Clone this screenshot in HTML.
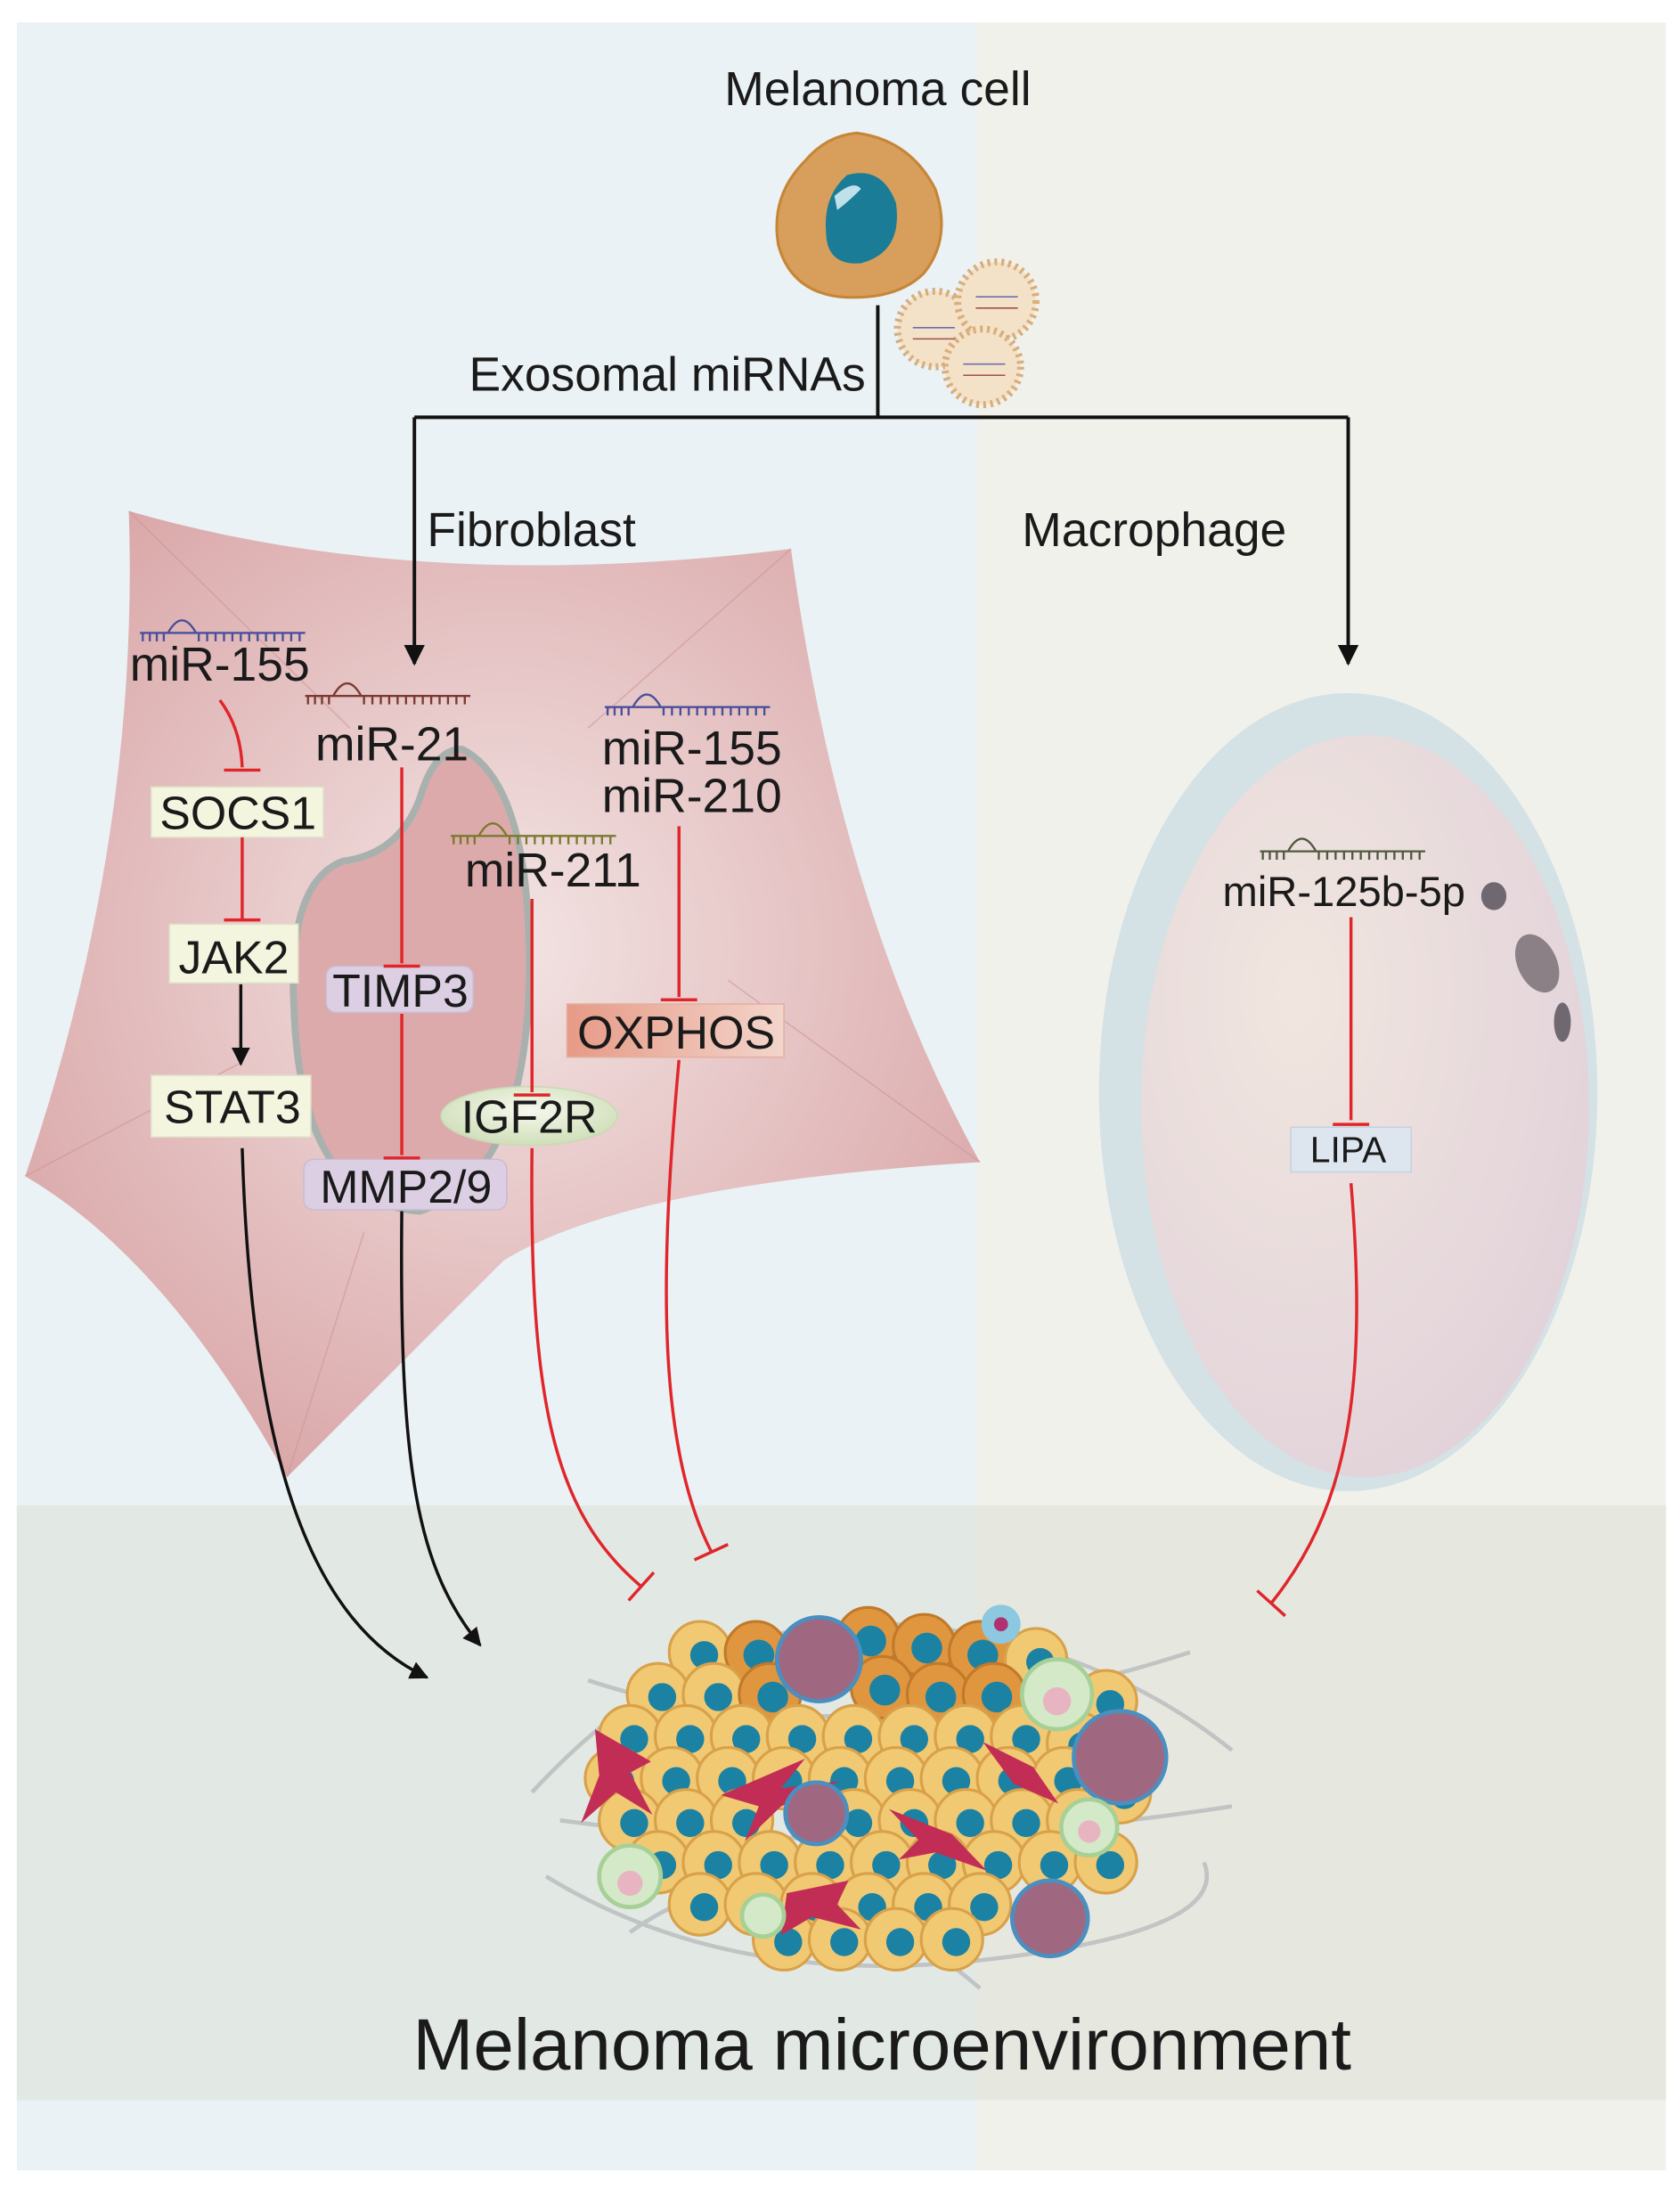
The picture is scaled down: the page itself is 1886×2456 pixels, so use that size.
<!DOCTYPE html>
<html><head><meta charset="utf-8"><style>
html,body{margin:0;padding:0;background:#fff}
svg{display:block}
text{font-family:"Liberation Sans",Arial,sans-serif;fill:#1a1a1a}
</style></head><body>
<svg width="1886" height="2456" viewBox="0 0 1200 1562.6" preserveAspectRatio="none" xmlns="http://www.w3.org/2000/svg">
<defs>
<radialGradient id="fib" cx="0.5" cy="0.45" r="0.6"><stop offset="0" stop-color="#f3e4e4"/><stop offset="1" stop-color="#daa7a8"/></radialGradient>
<radialGradient id="mac" cx="0.35" cy="0.35" r="0.7"><stop offset="0" stop-color="#f1e6df"/><stop offset="1" stop-color="#e2d3da"/></radialGradient>
<linearGradient id="ox" x1="0" y1="0" x2="1" y2="0"><stop offset="0" stop-color="#e69a86"/><stop offset="1" stop-color="#f3d5cb"/></linearGradient>
<radialGradient id="ig" cx="0.5" cy="0.4" r="0.6"><stop offset="0" stop-color="#f6f8ee"/><stop offset="1" stop-color="#cfdfb8"/></radialGradient>
<marker id="ar" viewBox="0 0 10 10" refX="9" refY="5" markerWidth="6" markerHeight="6" orient="auto-start-reverse"><path d="M0,0 L10,5 L0,10 z" fill="#111"/></marker>
<g id="cell"><circle r="22" fill="#f1c973" stroke="#d8a14a" stroke-width="2"/><circle cx="3" cy="2" r="10" fill="#1c82a3"/></g>
<g id="ocell"><circle r="22" fill="#e0963e" stroke="#c07a2a" stroke-width="2"/><circle cx="2" cy="2" r="11" fill="#1c82a3"/></g>
<g id="rna1"><path d="M0,0 h118" stroke="currentColor" stroke-width="1.5"/><path d="M2,0v6M7,0v6M12,0v6M17,0v6M42,0v6M48,0v6M54,0v6M60,0v6M66,0v6M72,0v6M78,0v6M84,0v6M90,0v6M96,0v6M102,0v6M108,0v6M114,0v6" stroke="currentColor" stroke-width="1.5"/><path d="M20,0 Q30,-18 40,0" fill="none" stroke="currentColor" stroke-width="1.5"/></g>
</defs>
<rect x="0" y="0" width="1200" height="1563" fill="#fff"/>
<rect x="12" y="16" width="686" height="1534" fill="#eaf2f5"/>
<rect x="698" y="16" width="492" height="1534" fill="#f1f1ec"/>
<rect x="12" y="1075" width="686" height="425" fill="#e2e9e5"/>
<rect x="698" y="1075" width="492" height="425" fill="#e6e8e0"/>

<!-- Melanoma cell -->
<text x="627" y="75" font-size="34" text-anchor="middle">Melanoma cell</text>
<path d="M612,95 Q650,100 668,135 Q680,170 660,195 Q640,215 600,212 Q565,208 556,175 Q550,140 575,115 Q590,97 612,95Z" fill="#d89f5c" stroke="#c68638" stroke-width="2"/>
<path d="M605,125 Q630,118 640,145 Q645,180 615,188 Q590,190 590,165 Q588,140 605,125Z" fill="#1a7c96"/>
<path d="M596,140 Q610,128 615,135 Q605,145 598,150Z" fill="#bfe1ea"/>
<g fill="#f3e1c8" stroke="#d9ae7a" stroke-width="5" stroke-dasharray="2 3">
<circle cx="668" cy="235" r="27"/><circle cx="712" cy="215" r="28"/><circle cx="702" cy="262" r="27"/>
</g>
<g stroke="#6a6fb0" stroke-width="1" fill="none"><path d="M652,234h30M697,212h30M688,260h30"/></g>
<g stroke="#a05050" stroke-width="1" fill="none"><path d="M652,242h30M697,220h30M688,268h30"/></g>
<text x="335" y="279" font-size="34">Exosomal miRNAs</text>

<!-- fibroblast -->
<path d="M92,365 Q300,425 565,392 Q600,650 700,830 Q450,845 360,900 Q280,980 205,1055 Q120,900 18,840 Q100,600 92,365Z" fill="url(#fib)"/>
<g stroke="#d19597" stroke-width="1" opacity="0.6" fill="none"><path d="M92,365 L250,520M565,392 L420,520M700,830 L520,700M205,1055 L260,880M18,840 L170,760"/></g>
<path d="M330,535 Q380,560 378,700 Q375,840 300,865 Q215,860 210,720 Q205,630 245,615 Q285,610 300,570 Q310,535 330,535Z" fill="#dcaaab" stroke="#a9b1ae" stroke-width="5"/>
<text x="305" y="390" font-size="34">Fibroblast</text>
<text x="730" y="390" font-size="34">Macrophage</text>

<!-- connectors top -->
<g stroke="#111" stroke-width="2.5" fill="none">
<path d="M627,218 V298"/><path d="M296,298 H963"/>
<path d="M296,298 V474" marker-end="url(#ar)"/><path d="M963,298 V474" marker-end="url(#ar)"/>
</g>

<!-- macrophage -->
<ellipse cx="963" cy="780" rx="178" ry="285" fill="#d4e1e5"/>
<ellipse cx="975" cy="790" rx="160" ry="265" fill="url(#mac)"/>
<ellipse cx="1067" cy="640" rx="9" ry="10" fill="#6f6870"/>
<ellipse cx="1098" cy="688" rx="14" ry="22" fill="#8a8086" transform="rotate(-25 1098 688)"/>
<ellipse cx="1116" cy="730" rx="6" ry="14" fill="#6f6870"/>

<!-- RNA icons -->
<use href="#rna1" x="100" y="452" color="#4a4f9a"/>
<use href="#rna1" x="218" y="497" color="#7a3a30"/>
<use href="#rna1" x="432" y="505" color="#4a4f9a"/>
<use href="#rna1" x="322" y="597" color="#7a7a30"/>
<use href="#rna1" x="900" y="608" color="#505a40"/>

<g font-size="34">
<text x="157" y="486" text-anchor="middle">miR-155</text>
<text x="280" y="543" text-anchor="middle">miR-21</text>
<text x="430" y="546">miR-155</text>
<text x="430" y="580">miR-210</text>
<text x="395" y="633" text-anchor="middle">miR-211</text>
</g>
<text x="960" y="647" font-size="30" text-anchor="middle">miR-125b-5p</text>

<!-- boxes -->
<rect x="108" y="562" width="123" height="36" fill="#f4f5df" stroke="#dfe0c8"/>
<rect x="121" y="660" width="92" height="42" fill="#f4f5df" stroke="#dfe0c8"/>
<rect x="108" y="768" width="114" height="44" fill="#f4f5df" stroke="#dfe0c8"/>
<rect x="233" y="690" width="105" height="33" rx="7" fill="#dccfe4" stroke="#c8bcd3"/>
<rect x="217" y="828" width="145" height="36" rx="7" fill="#dccfe4" stroke="#c8bcd3"/>
<ellipse cx="378" cy="797" rx="63" ry="21" fill="url(#ig)" stroke="#c9d8b7"/>
<rect x="405" y="717" width="155" height="38" fill="url(#ox)" stroke="#e3b0a0"/>
<rect x="922" y="805" width="86" height="32" fill="#dde6ef" stroke="#c7d2de"/>
<g font-size="33" text-anchor="middle">
<text x="170" y="592">SOCS1</text>
<text x="167" y="695">JAK2</text>
<text x="166" y="802">STAT3</text>
<text x="286" y="719">TIMP3</text>
<text x="290" y="859">MMP2/9</text>
<text x="378" y="809">IGF2R</text>
<text x="483" y="749">OXPHOS</text>
</g>
<text x="963" y="830" font-size="26" text-anchor="middle">LIPA</text>

<!-- red inhibition -->
<g stroke="#e0262a" stroke-width="2.2" fill="none">
<path d="M157,500 Q172,520 173,548"/><path d="M160,550h26"/>
<path d="M173,598V656"/><path d="M160,657h26"/>
<path d="M287,548V688"/><path d="M274,690h26"/>
<path d="M287,724V825"/><path d="M274,827h26"/>
<path d="M380,642V780"/><path d="M367,782h26"/>
<path d="M485,590V712"/><path d="M472,714h26"/>
<path d="M965,655V800"/><path d="M952,803h26"/>
<path d="M380,820 C378,1000 395,1080 458,1133"/><path d="M449,1143 L467,1123"/>
<path d="M485,757 C472,900 468,1030 508,1108"/><path d="M496,1114 L520,1103"/>
<path d="M965,845 C978,1000 960,1080 908,1145"/><path d="M898,1136 L918,1154"/>
</g>
<g stroke="#111" stroke-width="2.2" fill="none">
<path d="M172,703V760" marker-end="url(#ar)"/>
<path d="M173,820 C180,1050 225,1160 305,1198" marker-end="url(#ar)"/>
<path d="M287,865 C285,1050 298,1120 343,1175" marker-end="url(#ar)"/>
</g>

<!-- tumor mass -->
<g stroke="#b9bcbc" stroke-width="3" fill="none" opacity="0.8">
<path d="M380,1280 Q500,1150 640,1160 T880,1250"/><path d="M390,1340 Q520,1420 700,1400 T860,1330"/>
<path d="M420,1200 Q600,1260 850,1180"/><path d="M400,1300 Q620,1330 880,1290"/><path d="M450,1380 Q560,1300 700,1420"/>
</g>
<g>
<use href="#cell" x="500" y="1180"/><use href="#ocell" x="540" y="1180"/><use href="#ocell" x="620" y="1170"/><use href="#ocell" x="660" y="1175"/><use href="#ocell" x="700" y="1180"/><use href="#cell" x="740" y="1185"/>
<use href="#cell" x="470" y="1210"/><use href="#cell" x="510" y="1210"/><use href="#ocell" x="550" y="1210"/><use href="#ocell" x="630" y="1205"/><use href="#ocell" x="670" y="1210"/><use href="#ocell" x="710" y="1210"/><use href="#cell" x="790" y="1215"/>
<use href="#cell" x="450" y="1240"/><use href="#cell" x="490" y="1240"/><use href="#cell" x="530" y="1240"/><use href="#cell" x="570" y="1240"/><use href="#cell" x="610" y="1240"/><use href="#cell" x="650" y="1240"/><use href="#cell" x="690" y="1240"/><use href="#cell" x="730" y="1240"/><use href="#cell" x="770" y="1245"/>
<use href="#cell" x="440" y="1270"/><use href="#cell" x="480" y="1270"/><use href="#cell" x="520" y="1270"/><use href="#cell" x="560" y="1270"/><use href="#cell" x="600" y="1270"/><use href="#cell" x="640" y="1270"/><use href="#cell" x="680" y="1270"/><use href="#cell" x="720" y="1270"/><use href="#cell" x="760" y="1270"/><use href="#cell" x="800" y="1280"/>
<use href="#cell" x="450" y="1300"/><use href="#cell" x="490" y="1300"/><use href="#cell" x="530" y="1300"/><use href="#cell" x="610" y="1300"/><use href="#cell" x="650" y="1300"/><use href="#cell" x="690" y="1300"/><use href="#cell" x="730" y="1300"/><use href="#cell" x="770" y="1300"/>
<use href="#cell" x="470" y="1330"/><use href="#cell" x="510" y="1330"/><use href="#cell" x="550" y="1330"/><use href="#cell" x="590" y="1330"/><use href="#cell" x="630" y="1330"/><use href="#cell" x="670" y="1330"/><use href="#cell" x="710" y="1330"/><use href="#cell" x="750" y="1330"/><use href="#cell" x="790" y="1330"/>
<use href="#cell" x="500" y="1360"/><use href="#cell" x="540" y="1360"/><use href="#cell" x="580" y="1360"/><use href="#cell" x="620" y="1360"/><use href="#cell" x="660" y="1360"/><use href="#cell" x="700" y="1360"/>
<use href="#cell" x="560" y="1385"/><use href="#cell" x="600" y="1385"/><use href="#cell" x="640" y="1385"/><use href="#cell" x="680" y="1385"/>
</g>
<g fill="#c22d55">
<path d="M425,1235 L465,1258 L450,1266 L466,1296 L440,1280 L415,1302 L428,1268Z"/>
<path d="M515,1282 L575,1256 L558,1277 L600,1272 L558,1290 L532,1315 L542,1290Z"/>
<path d="M635,1292 L680,1310 L705,1336 L668,1323 L642,1328 L656,1314Z"/>
<path d="M562,1352 L606,1343 L598,1360 L615,1378 L580,1369 L558,1382Z"/>
<path d="M702,1244 L738,1262 L756,1288 L724,1274Z"/>
</g>
<g stroke="#4a8fc0" stroke-width="3">
<circle cx="585" cy="1185" r="30" fill="#a06880"/><circle cx="800" cy="1255" r="33" fill="#a06880"/>
<circle cx="583" cy="1295" r="22" fill="#a06880"/><circle cx="750" cy="1370" r="27" fill="#a06880"/>
</g>
<g fill="#d3e9c8" stroke="#a6d096" stroke-width="3">
<circle cx="755" cy="1210" r="25"/><circle cx="450" cy="1340" r="22"/><circle cx="778" cy="1305" r="20"/><circle cx="545" cy="1368" r="15"/>
</g>
<g fill="#e9b4c2"><circle cx="755" cy="1215" r="10"/><circle cx="450" cy="1345" r="9"/><circle cx="778" cy="1308" r="8"/></g>
<circle cx="715" cy="1160" r="14" fill="#8cc8e0"/><circle cx="715" cy="1160" r="5" fill="#b03070"/>

<text x="630" y="1478" font-size="52" text-anchor="middle">Melanoma microenvironment</text>
</svg>
</body></html>
